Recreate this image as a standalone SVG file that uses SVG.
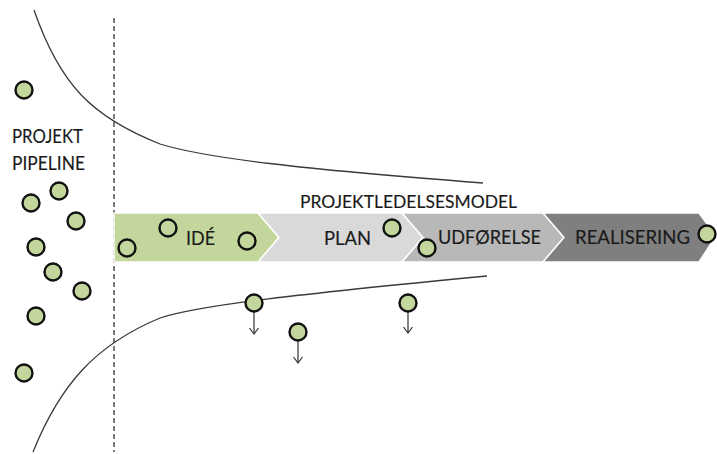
<svg xmlns="http://www.w3.org/2000/svg" width="717" height="454" viewBox="0 0 717 454">
<defs>
<style>
.dot{fill:#c3d69b;stroke:#111;stroke-width:2.4}
.curve{fill:none;stroke:#3a3a3a;stroke-width:1.3}
.lbl{font-family:Lato,"Liberation Sans",Arial,sans-serif;fill:#1a1a1a;stroke:#1a1a1a;stroke-width:0.15}
.arr{fill:none;stroke:#333;stroke-width:1.2}
.chev{stroke:#fff;stroke-width:1.5}
</style>
<marker id="ah" markerWidth="10" markerHeight="12" refX="7" refY="5" orient="auto" markerUnits="userSpaceOnUse" viewBox="0 0 10 10">
<path d="M1,0.5 L7,5 L1,9.5" fill="none" stroke="#333" stroke-width="1.2"/>
</marker>
</defs>
<rect width="717" height="454" fill="#fff"/>

<g id="divider">
<line x1="114" y1="18" x2="114" y2="452" stroke="#111" stroke-width="1.1" stroke-dasharray="5,3"/>
</g>

<g id="chevrons">
<g id="ide"><path class="chev" d="M114,213 L258,213 L279,237.5 L258,262 L114,262 Z" fill="#c3d69b"/></g>
<g id="plan"><path class="chev" d="M258,213 L402,213 L423,237.5 L402,262 L258,262 L279,237.5 Z" fill="#d9d9d9"/></g>
<g id="udforelse"><path class="chev" d="M402,213 L543,213 L564,237.5 L543,262 L402,262 L423,237.5 Z" fill="#b8b8b8"/></g>
<g id="realisering"><path class="chev" d="M543,213 L699,213 L716,236 L699,262 L543,262 L564,237.5 Z" fill="#7f7f7f"/></g>
</g>

<g id="connectors">
<path class="curve" d="M34,10 C60,85 92,117 160,144 C205,158 300,169 483,183"/>
<path class="curve" d="M33,452 C60,385 95,345 160,318 C200,305 300,294 487,276"/>
<line class="arr" x1="254" y1="311" x2="254" y2="334" marker-end="url(#ah)"/>
<line class="arr" x1="298" y1="340" x2="298" y2="363" marker-end="url(#ah)"/>
<line class="arr" x1="408" y1="312" x2="408" y2="333" marker-end="url(#ah)"/>
</g>

<g id="labels">
<text class="lbl" x="12" y="143" font-size="19" textLength="71" lengthAdjust="spacingAndGlyphs">PROJEKT</text>
<text class="lbl" x="12" y="170" font-size="19" textLength="73" lengthAdjust="spacingAndGlyphs">PIPELINE</text>
<text class="lbl" x="300" y="208" font-size="17.5" textLength="217" lengthAdjust="spacingAndGlyphs">PROJEKTLEDELSESMODEL</text>
<text class="lbl" x="186" y="245" font-size="19" textLength="29" lengthAdjust="spacingAndGlyphs">IDÉ</text>
<text class="lbl" x="324" y="245" font-size="19" textLength="47" lengthAdjust="spacingAndGlyphs">PLAN</text>
<text class="lbl" x="438" y="244" font-size="19" textLength="103" lengthAdjust="spacingAndGlyphs">UDFØRELSE</text>
<text class="lbl" x="575" y="244" font-size="19" textLength="115" lengthAdjust="spacingAndGlyphs">REALISERING</text>
</g>

<g id="dots">
<circle class="dot" cx="24" cy="90" r="8.5"/>
<circle class="dot" cx="59" cy="191" r="8.5"/>
<circle class="dot" cx="31" cy="203" r="8.5"/>
<circle class="dot" cx="76" cy="221" r="8.5"/>
<circle class="dot" cx="36" cy="247" r="8.5"/>
<circle class="dot" cx="53" cy="272" r="8.5"/>
<circle class="dot" cx="82" cy="291" r="8.5"/>
<circle class="dot" cx="36" cy="316" r="8.5"/>
<circle class="dot" cx="24" cy="373" r="8.5"/>
<circle class="dot" cx="127" cy="248" r="8.5"/>
<circle class="dot" cx="168" cy="228" r="8.5"/>
<circle class="dot" cx="247" cy="241" r="8.5"/>
<circle class="dot" cx="392" cy="228" r="8.5"/>
<circle class="dot" cx="427" cy="248" r="8.5"/>
<circle class="dot" cx="707" cy="234" r="8.5"/>
<circle class="dot" cx="254" cy="303" r="8.5"/>
<circle class="dot" cx="298" cy="332" r="8.5"/>
<circle class="dot" cx="408" cy="303" r="8.5"/>
</g>
</svg>
